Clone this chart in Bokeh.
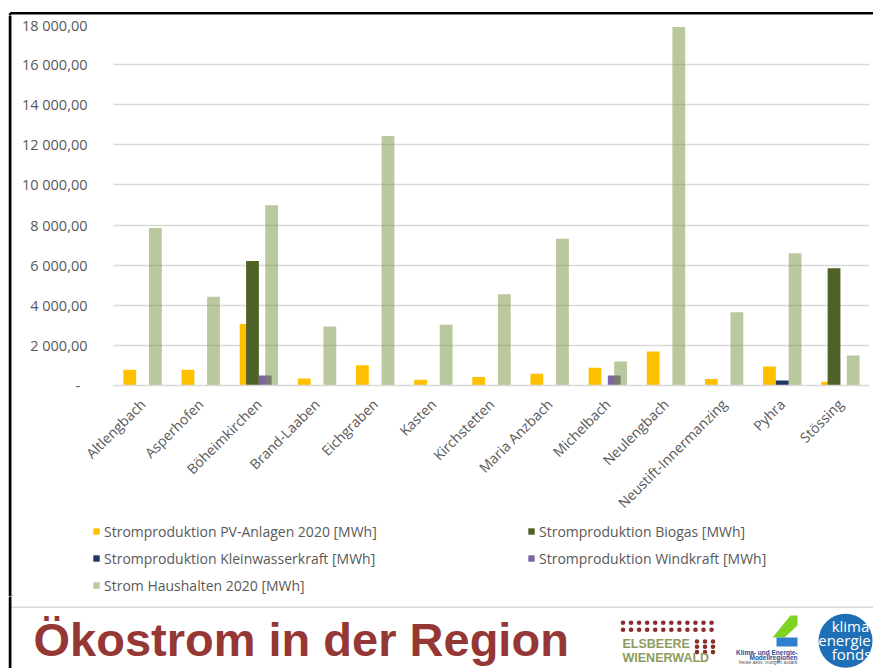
import math
from bokeh.plotting import figure
from bokeh.models import (FactorRange, Range1d, FixedTicker, Legend, LegendItem,
                          ColumnDataSource)
from bokeh.transform import dodge
from bokeh.layouts import column, row
from bokeh.core.properties import value
from bokeh.embed import file_html
from bokeh.resources import INLINE

# ---------------- data ----------------
categories = ["Altlengbach", "Asperhofen", "Böheimkirchen", "Brand-Laaben", "Eichgraben",
              "Kasten", "Kirchstetten", "Maria Anzbach", "Michelbach", "Neulengbach",
              "Neustift-Innermanzing", "Pyhra", "Stössing"]
pv_2020 = [780, 780, 3070, 350, 1015, 285, 420, 585, 880, 1695, 320, 945, 185]
biogas = [0, 0, 6210, 0, 0, 0, 0, 0, 0, 0, 0, 0, 5845]
kleinwasser = [0, 0, 0, 0, 0, 0, 0, 0, 0, 0, 0, 250, 0]
windkraft = [0, 0, 500, 0, 0, 0, 0, 0, 500, 0, 0, 0, 0]
haushalte_2020 = [7855, 4420, 8985, 2940, 12435, 3025, 4555, 7320, 1195, 17880, 3655, 6595, 1495]

series_names = ["Stromproduktion PV-Anlagen 2020 [MWh]",
                "Stromproduktion Biogas [MWh]",
                "Stromproduktion Kleinwasserkraft [MWh]",
                "Stromproduktion Windkraft [MWh]",
                "Strom Haushalten 2020 [MWh]"]
y_ticks = [0, 2000, 4000, 6000, 8000, 10000, 12000, 14000, 16000, 18000]
y_tick_labels = ["-\u2002", "2 000,00", "4 000,00", "6 000,00", "8 000,00", "10 000,00",
                 "12 000,00", "14 000,00", "16 000,00", "18 000,00"]
title_text = "Ökostrom in der Region"

# ---------------- styling ----------------
cols = ["pv", "bio", "kw", "wind", "hh"]
colors = ["#FFC000", "#4F6228", "#1F3864", "#8064A2", "#76923C"]
alphas = [1, 1, 1, 1, 0.5]
offsets = [-0.22, -0.11, 0.0, 0.11, 0.22]
TXT = "#595959"
FONT = "Open Sans"


def blank(width, height, xr, yr):
    f = figure(width=width, height=height, x_range=Range1d(*xr), y_range=Range1d(*yr),
               output_backend="svg", toolbar_location=None, min_border=0,
               x_axis_location=None, y_axis_location=None)
    f.grid.grid_line_color = None
    f.outline_line_color = None
    f.background_fill_color = "white"
    f.border_fill_color = "white"
    f.frame_align = False
    return f


# ---------------- chart ----------------
src = ColumnDataSource(dict(cat=categories, pv=pv_2020, bio=biogas, kw=kleinwasser,
                            wind=windkraft, hh=haushalte_2020))

p = figure(x_range=FactorRange(*categories), y_range=Range1d(0, 18000),
           width=861, height=506, output_backend="svg", toolbar_location=None,
           min_border_left=101, min_border_right=4, min_border_top=9, min_border_bottom=135)
p.frame_align = False
p.outline_line_color = None
p.background_fill_color = "white"
p.border_fill_color = "white"

for c, col, a, off in zip(cols, colors, alphas, offsets):
    p.vbar(x=dodge("cat", off, range=p.x_range), top=c, width=0.22, source=src,
           fill_color=col, fill_alpha=a, line_color=None)

p.xgrid.grid_line_color = None
p.ygrid.grid_line_color = "#d9d9d9"
p.ygrid.grid_line_width = 1.3
p.yaxis.ticker = FixedTicker(ticks=y_ticks)
p.yaxis.major_label_overrides = {t: l for t, l in zip(y_ticks, y_tick_labels)}
p.yaxis.axis_line_color = None
p.yaxis.major_tick_line_color = None
p.yaxis.minor_tick_line_color = None
p.yaxis.major_tick_out = 0
p.yaxis.major_label_standoff = 26
p.yaxis.major_label_text_font = FONT
p.yaxis.major_label_text_font_size = "14.5px"
p.yaxis.major_label_text_color = TXT

p.xaxis.axis_line_color = "#d9d9d9"
p.xaxis.axis_line_width = 1.3
p.xaxis.major_tick_line_color = None
p.xaxis.major_tick_out = 0
p.xaxis.major_label_orientation = math.pi / 4
p.xaxis.major_label_standoff = 16
p.xaxis.major_label_text_font = FONT
p.xaxis.major_label_text_font_size = "14px"
p.xaxis.major_label_text_color = TXT

# ---------------- legend strip ----------------
lf = blank(861, 75, (0, 861), (0, 75))
leg_r = []
for col, a in zip(colors, alphas):
    # legend swatch renderers, kept outside the visible range
    leg_r.append(lf.vbar(x=[-500], top=[1], width=1, fill_color=col, fill_alpha=a,
                         line_color=None))


def make_legend(idx, loc):
    lg = Legend(items=[LegendItem(label=series_names[i], renderers=[leg_r[i]]) for i in idx],
                location=loc, orientation="vertical", padding=0, margin=0, spacing=7,
                glyph_width=8, glyph_height=8, label_height=20, label_standoff=4,
                label_text_font=FONT, label_text_font_size="14px",
                label_text_color=TXT, border_line_color=None, background_fill_alpha=0)
    lf.add_layout(lg)


make_legend([0, 2, 4], (80, 1))
make_legend([1, 3], (515, 28))

# ---------------- slide frame strips ----------------
top = blank(873, 15, (0, 873), (15, 0))
top.segment(x0=[9.6, 9.6], y0=[12.8, 12.8], x1=[873, 9.6], y1=[12.8, 16],
            line_color="black", line_width=2.5)

left = blank(12, 581, (0, 12), (596, 15))
left.segment(x0=[9.6], y0=[10], x1=[9.6], y1=[600], line_color="black", line_width=2.7)

# ---------------- footer ----------------
f = blank(873, 72, (0, 873), (668, 596))
f.segment(x0=[10], y0=[606.8], x1=[873], y1=[606.8], line_color="#d9d9d9", line_width=1.5)
f.segment(x0=[9.6], y0=[590], x1=[9.6], y1=[670], line_color="black", line_width=2.7)

f.text(x=[33], y=[639], text=[title_text], text_font=value("Liberation Sans"),
       text_font_style="bold", text_font_size="47px", text_color="#953735",
       text_baseline="alphabetic", text_align="left")

# Elsbeere Wienerwald logo
dx = [622.5 + 8.05 * i for i in range(12)]
f.scatter(x=dx * 2, y=[622.3] * 12 + [629.3] * 12, size=4.6, color="#8B2D2D", line_color=None)
bx = [696.5, 704.5, 712.5]
f.scatter(x=bx * 3, y=[641] * 3 + [646.3] * 3 + [651.6] * 3, size=4.6, color="#8B2D2D",
          line_color=None)
f.text(x=[622, 622], y=[643.3, 657.7], text=["ELSBEERE", "WIENERWALD"],
       text_font=value("Liberation Sans"), text_font_style="bold", text_font_size="12.5px",
       text_color="#8E9C5F", text_baseline="middle")

# Klima- und Energie-Modellregionen logo
f.patch(x=[790, 797, 797, 784, 772], y=[615, 615, 625, 637, 637], color="#7ED321",
        line_color=None)
f.quad(left=[776], right=[797], top=[637], bottom=[646], color="#2E7FD0", line_color=None)
f.text(x=[797, 797], y=[651.7, 656.7], text=["Klima- und Energie-", "Modellregionen"],
       text_font=value("Liberation Sans"), text_font_style="bold", text_font_size="6.5px",
       text_color="#1F4E9E", text_align="right", text_baseline="middle")
f.text(x=[797], y=[661.7], text=["heute aktiv, morgen autark"],
       text_font=value("Liberation Sans"), text_font_size="5px",
       text_color="#555555", text_align="right", text_baseline="middle")

# Klima- und Energiefonds logo
f.scatter(x=[845], y=[640.3], size=54, color="#1F6FB6", line_color=None)
f.text(x=[850, 844, 851], y=[625, 639.5, 653.5], text=["klima", "energie", "fonds"],
       text_font=value(FONT), text_font_size="15px", text_color="white",
       text_align="center", text_baseline="middle")

layout = column(top, row(left, column(p, lf, spacing=0), spacing=0), f, spacing=0)
open("out.html", "w").write(file_html(layout, INLINE))
